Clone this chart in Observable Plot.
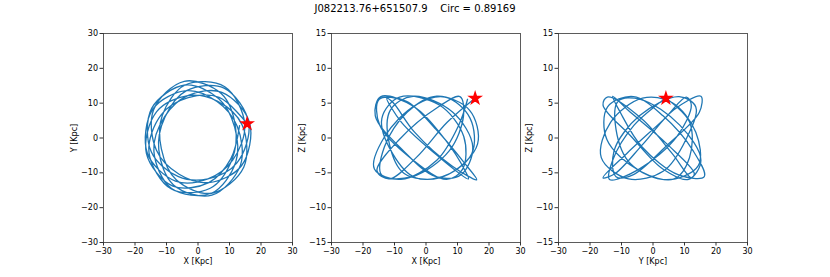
<!DOCTYPE html>
<html>
<head>
<meta charset="utf-8">
<script src="https://cdn.jsdelivr.net/npm/d3@7"></script>
<script src="https://cdn.jsdelivr.net/npm/@observablehq/plot@0.6"></script>
<style>
  html, body { margin: 0; padding: 0; background: #fff; }
  #wrap { position: relative; width: 830px; height: 277px; overflow: hidden; font-family: "DejaVu Sans", sans-serif; }
  #title { position: absolute; top: 3px; left: 0; width: 830px; text-align: center; font-size: 10px; white-space: pre; color: #000; }
  .panel { position: absolute; top: 20px; }
</style>
</head>
<body>
<div id="wrap">
  <div id="title"></div>
</div>
<script>
const titleText = "J082213.76+651507.9    Circ = 0.89169";

// Orbit samples (kpc), read/estimated from the reference projections
const orbitX = [15.56,6.72,-3.11,-11.64,-15.56,-8.46,3.87,10.78, 11.91,7.36,-4.36,-14.09,-13.19,-6.00,3.43,13.80, 16.38,7.57,-3.26,-10.59,-14.01,-8.38,4.25,11.99, 11.63,6.53,-4.08,-14.71,-14.84,-6.37,3.15,12.37, 16.10,8.27,-3.64,-10.47,-12.45,-7.78,4.40,13.47, 12.45,6.04,-3.64,-14.33,-16.10,-7.14,3.15,11.02, 14.84,8.50,-4.08,-11.32,-11.63,-6.92,4.25,14.52, 14.01,6.12,-3.26,-13.12,-16.38,-7.97,3.43,10.40, 13.19];
const orbitY = [4.17,11.64,11.59,6.72,-4.17,-14.64,-14.42,-6.23, 3.19,12.75,16.28,8.13,-3.54,-10.40,-12.80,-7.97, 4.39,13.12,12.16,6.12,-3.76,-14.52,-15.86,-6.92, 3.12,11.32,15.21,8.50,-3.98,-11.02,-11.74,-7.14, 4.32,14.33,13.59,6.04,-3.34,-13.47,-16.42,-7.78, 3.34,10.47,13.59,8.27,-4.32,-12.37,-11.74,-6.37, 3.98,14.71,15.21,6.53,-3.12,-11.99,-15.86,-8.38, 3.76,10.59,12.16,7.57,-4.39,-13.80,-12.80,-6.00, 3.54];
const orbitZ = [5.71,2.25,-2.82,-5.87,-4.73,-0.21,4.46,5.94, 3.18,-1.85,-5.56,-5.30,-1.25,3.69,5.99,4.01, -0.84,-5.09,-5.71,-2.25,2.82,5.87,4.73,0.21, -4.46,-5.94,-3.18,1.85,5.56,5.30,1.25,-3.69, -5.99,-4.01,0.84,5.09,5.71,2.25,-2.82,-5.87, -4.73,-0.21,4.46,5.94,3.18,-1.85,-5.56,-5.30, -1.25,3.69,5.99,4.01,-0.84,-5.09,-5.71,-2.25, 2.82,5.87,4.73,0.21,-4.46,-5.94,-3.18,1.85, 5.56];

// Current position (star)
const starX = [15.6];
const starY = [4.1];
const starZ = [5.7];

const xyTicks = [-30, -20, -10, 0, 10, 20, 30];
const zTicks = [-15, -10, -5, 0, 5, 10, 15];

const panels = [
  {h: "X", v: "Y", hLabel: "X [Kpc]", vLabel: "Y [Kpc]", vDomain: [-30, 30], vTicks: xyTicks, left: 60},
  {h: "X", v: "Z", hLabel: "X [Kpc]", vLabel: "Z [Kpc]", vDomain: [-15, 15], vTicks: zTicks, left: 288},
  {h: "Y", v: "Z", hLabel: "Y [Kpc]", vLabel: "Z [Kpc]", vDomain: [-15, 15], vTicks: zTicks, left: 515}
];

document.getElementById("title").textContent = titleText;

const rows = orbitX.map((x, i) => ({X: x, Y: orbitY[i], Z: orbitZ[i]}));
const star = starX.map((x, i) => ({X: x, Y: starY[i], Z: starZ[i]}));

const wrap = document.getElementById("wrap");
for (const p of panels) {
  const chart = Plot.plot({
    width: 240,
    height: 257,
    marginTop: 13,
    marginBottom: 35,
    marginLeft: 43,
    marginRight: 8,
    style: {background: "transparent", fontFamily: "DejaVu Sans, sans-serif", fontSize: "8px", color: "#000", overflow: "visible"},
    x: {domain: [-30, 30]},
    y: {domain: p.vDomain},
    marks: [
      Plot.line(rows, {x: p.h, y: p.v, curve: "catmull-rom", stroke: "#1f77b4", strokeWidth: 1.3}),
      Plot.dot(star, {x: p.h, y: p.v, symbol: "star", fill: "red", stroke: "red", r: 3.5}),
      Plot.frame({stroke: "#333", strokeWidth: 0.8}),
      Plot.axisX({ticks: xyTicks, tickSize: 3.5, tickPadding: 2, label: p.hLabel, labelAnchor: "center", labelArrow: "none", labelOffset: 21, stroke: "#333"}),
      Plot.axisY({ticks: p.vTicks, tickSize: 3.5, tickPadding: 2, label: p.vLabel, labelAnchor: "center", labelArrow: "none", labelOffset: 32, stroke: "#333"})
    ]
  });
  chart.classList.add("panel");
  chart.style.left = p.left + "px";
  wrap.appendChild(chart);
}
</script>
</body>
</html>
